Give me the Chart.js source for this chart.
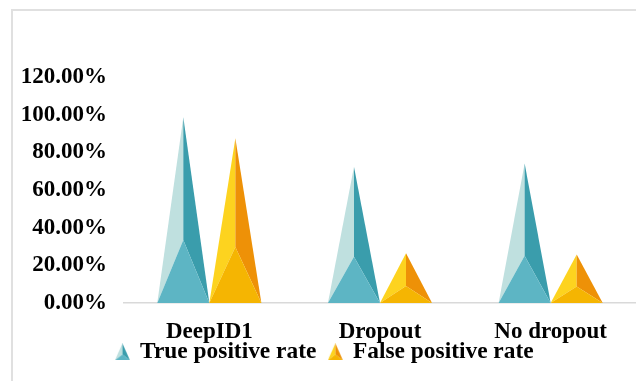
<!DOCTYPE html>
<html>
<head>
<meta charset="utf-8">
<script src="https://cdn.jsdelivr.net/npm/chart.js@4/dist/chart.umd.min.js"></script>
<style>
  html, body { margin: 0; padding: 0; background: #fff; }
  #wrap { position: relative; width: 636px; height: 381px; overflow: hidden; }
  #frame {
    position: absolute; left: 11px; top: 9px; right: -4px; bottom: -4px;
    border-left: 2px solid #e0e0e0; border-top: 2px solid #e0e0e0;
  }
  #chart { position: absolute; left: 0; top: 0; }
</style>
</head>
<body>
<div id="wrap">
  <div id="frame"></div>
  <canvas id="chart" width="636" height="381"></canvas>
</div>
<script>
const categories = ["DeepID1", "Dropout", "No dropout"];
const truePositive = [0.986, 0.723, 0.741];
const falsePositive = [0.875, 0.265, 0.258];
const yMin = 0;
const yMax = 1.2;
const yStep = 0.2;

// light face, shaded face, lower front face
const tealFaces = ["#bfe0df", "#3a9dac", "#5db5c4"];
const goldFaces = ["#fdd31f", "#ee9107", "#f5b502"];

const FONT = { family: "'Liberation Serif', 'Times New Roman', serif", size: 23, weight: "bold" };

function tri(ctx, a, b, c, color) {
  ctx.beginPath();
  ctx.moveTo(a[0], a[1]);
  ctx.lineTo(b[0], b[1]);
  ctx.lineTo(c[0], c[1]);
  ctx.closePath();
  ctx.fillStyle = color;
  ctx.fill();
}

function drawPyramid(ctx, cx, top, left, right, base, faces) {
  const h = base - top;
  const mid = [cx, base - h * 0.34];
  tri(ctx, [left, base], [cx, top], mid, faces[0]);
  tri(ctx, [cx, top], [right, base], mid, faces[1]);
  tri(ctx, [left, base], mid, [right, base], faces[2]);
}

// small pyramid icon for the legend
function legendIcon(faces) {
  const c = document.createElement("canvas");
  c.width = 15;
  c.height = 17;
  drawPyramid(c.getContext("2d"), 7.5, 0, 0, 15, 17, faces);
  return c;
}

const pyramidPlugin = {
  id: "pyramids",
  afterLayout(chart) {
    // category labels sit close to the legend; let them draw below the axis box
    chart.scales.x.bottom += 16;
    // legend row sits a little up and right of its default box
    const lg = chart.legend;
    lg.top -= 3;
    lg.bottom -= 3;
    lg.left += 7;
    lg.right += 7;
  },
  afterDatasetsDraw(chart) {
    const ctx = chart.ctx;
    chart.data.datasets.forEach((ds, i) => {
      const meta = chart.getDatasetMeta(i);
      if (meta.hidden) return;
      meta.data.forEach(bar => {
        const p = bar.getProps(["x", "y", "base", "width"], true);
        drawPyramid(ctx, p.x, p.y, p.x - p.width / 2, p.x + p.width / 2, p.base, ds.faces);
      });
    });
  }
};

new Chart(document.getElementById("chart"), {
  type: "bar",
  data: {
    labels: categories,
    datasets: [
      {
        label: "True positive rate",
        data: truePositive,
        faces: tealFaces,
        backgroundColor: "rgba(0,0,0,0)",
        borderWidth: 0,
        pointStyle: legendIcon(tealFaces)
      },
      {
        label: "False positive rate",
        data: falsePositive,
        faces: goldFaces,
        backgroundColor: "rgba(0,0,0,0)",
        borderWidth: 0,
        pointStyle: legendIcon(goldFaces)
      }
    ]
  },
  options: {
    responsive: false,
    animation: false,
    categoryPercentage: 0.61,
    barPercentage: 1,
    layout: { padding: { top: 77, left: 0, right: 0, bottom: 4.5 } },
    plugins: {
      tooltip: { enabled: false },
      legend: {
        position: "bottom",
        labels: {
          usePointStyle: true,
          pointStyleWidth: 12,
          padding: 13,
          color: "#000",
          font: { ...FONT, size: 23.4 }
        }
      }
    },
    scales: {
      x: {
        grid: { display: false, drawTicks: false },
        border: { display: true, color: "#d9d9d9", width: 1.5 },
        ticks: { color: "#000", font: { ...FONT, lineHeight: 1 }, padding: 17, maxRotation: 0 },
        afterFit(scale) { scale.height = 27; }
      },
      y: {
        min: yMin,
        max: yMax,
        grid: { display: false, drawTicks: false },
        border: { display: false },
        ticks: {
          stepSize: yStep,
          color: "#000",
          font: FONT,
          padding: 17,
          callback: v => (v * 100).toFixed(2) + "%"
        },
        afterFit(scale) { scale.width = 124; }
      }
    }
  },
  plugins: [pyramidPlugin]
});
</script>
</body>
</html>
